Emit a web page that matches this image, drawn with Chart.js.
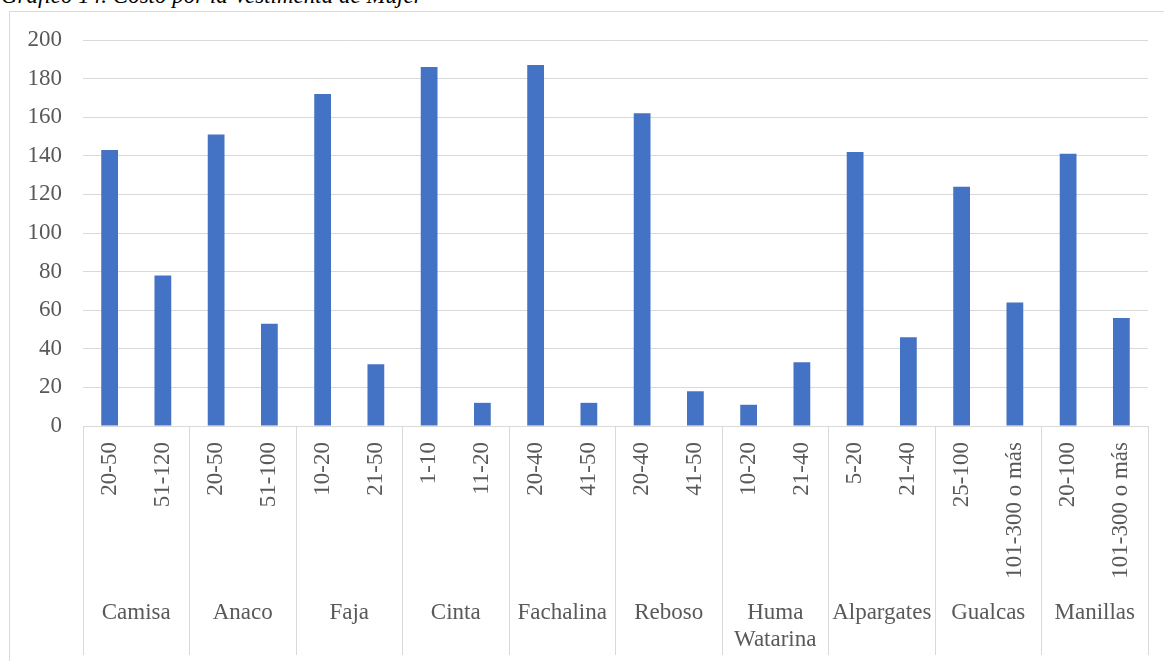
<!DOCTYPE html>
<html>
<head>
<meta charset="utf-8">
<script src="https://cdn.jsdelivr.net/npm/chart.js@4/dist/chart.umd.min.js"></script>
<style>
  html, body { margin: 0; padding: 0; width: 1164px; height: 661px; overflow: hidden; background: #fff; }
  #title { position: absolute; left: 1px; top: -16px; font: italic 23px/23px "Liberation Serif", "Times New Roman", serif; color: #000; white-space: nowrap; }
  #frame { position: absolute; left: 9px; top: 11px; width: 1200px; height: 700px; border: 1px solid #d9d9d9; box-sizing: content-box; }
  #c { position: absolute; left: 0; top: 0; }
</style>
</head>
<body>
<div id="title">Gráfico 14. Costo por la Vestimenta de Mujer</div>
<div id="frame"><canvas id="c" width="1154" height="670"></canvas></div>
<script>
const groups = ['Camisa', 'Anaco', 'Faja', 'Cinta', 'Fachalina', 'Reboso', ['Huma', 'Watarina'], 'Alpargates', 'Gualcas', 'Manillas'];
const ranges = ['20-50', '51-120', '20-50', '51-100', '10-20', '21-50', '1-10', '11-20', '20-40', '41-50',
                '20-40', '41-50', '10-20', '21-40', '5-20', '21-40', '25-100', '101-300 o más', '20-100', '101-300 o más'];
const values = [143, 78, 151, 53, 172, 32, 186, 12, 187, 12, 162, 18, 11, 33, 142, 46, 124, 64, 141, 56];
const yTicks = { min: 0, max: 200, step: 20 };

const FONT = { family: '"Liberation Serif", "Times New Roman", serif', size: 23 };
const GRID = '#d9d9d9';
const TEXT = '#595959';

new Chart(document.getElementById('c'), {
  type: 'bar',
  data: {
    labels: ranges,
    datasets: [{
      data: values,
      backgroundColor: '#4472C4',
      borderWidth: 0,
      categoryPercentage: 1,
      barPercentage: 0.315,
      xAxisID: 'x',
      yAxisID: 'y'
    }]
  },
  options: {
    responsive: false,
    animation: false,
    devicePixelRatio: 1,
    layout: { padding: { left: 0, top: 28, right: 16, bottom: 27 } },
    plugins: { legend: { display: false }, tooltip: { enabled: false }, title: { display: false } },
    scales: {
      y: {
        min: yTicks.min, max: yTicks.max,
        ticks: { stepSize: yTicks.step, color: TEXT, font: FONT, padding: 0 },
        grid: { color: GRID, lineWidth: 1, drawTicks: true, tickLength: 21, tickColor: 'rgba(0,0,0,0)' },
        border: { display: false },
        afterFit: s => { s.width = 73; }
      },
      x: {
        type: 'category',
        position: 'bottom',
        weight: 0,
        offset: true,
        ticks: { autoSkip: false, minRotation: 90, maxRotation: 90, color: TEXT, font: FONT, padding: -141 },
        grid: {
          offset: true,
          drawOnChartArea: false,
          drawTicks: true,
          tickLength: 157,
          color: c => (c.index === undefined || c.index % 2 === 0) ? GRID : 'rgba(0,0,0,0)',
          lineWidth: 1
        },
        border: { display: true, color: GRID, width: 1 },
        afterFit: s => { s.height = 157; }
      },
      x2: {
        type: 'category',
        axis: 'x',
        position: 'bottom',
        weight: 1,
        labels: groups,
        offset: true,
        ticks: { autoSkip: false, minRotation: 0, maxRotation: 0, color: TEXT, font: FONT, padding: -56 },
        grid: {
          offset: true,
          drawOnChartArea: false,
          drawTicks: true,
          tickLength: 72,
          color: GRID,
          lineWidth: 1
        },
        border: { display: false },
        afterFit: s => { s.height = 72; }
      }
    }
  }
});
</script>
</body>
</html>
